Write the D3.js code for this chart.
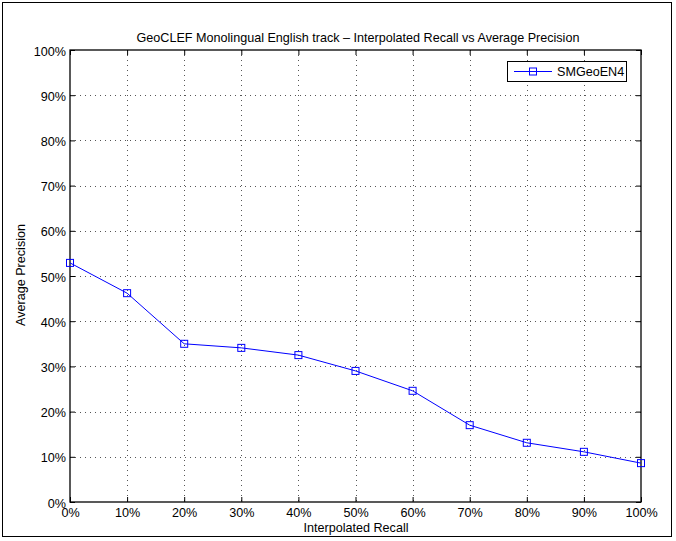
<!DOCTYPE html>
<html><head><meta charset="utf-8">
<script src="https://cdn.jsdelivr.net/npm/d3@7"></script>
<style>body{margin:0;background:#fff}svg{display:block;font-family:"Liberation Sans",Arial,sans-serif}</style>
</head><body><svg id="c" width="676" height="541"></svg>
<script>
const recall = [0,0.1,0.2,0.3,0.4,0.5,0.6,0.7,0.8,0.9,1.0];
const precision = [0.529,0.462,0.350,0.341,0.325,0.290,0.246,0.170,0.131,0.111,0.086];
const xTicks = [0,0.1,0.2,0.3,0.4,0.5,0.6,0.7,0.8,0.9,1.0];
const yTicks = [0,0.1,0.2,0.3,0.4,0.5,0.6,0.7,0.8,0.9,1.0];
const seriesName = "SMGeoEN4";
const titleText = "GeoCLEF Monolingual English track \u2013 Interpolated Recall vs Average Precision";

const FS = 12.6;
const svg = d3.select("#c");
const L=70, R=641, T=50, B=502;
const x = d3.scaleLinear().domain([0,1]).range([L,R]);
const y = d3.scaleLinear().domain([0,1]).range([B,T]);
const fmt = d => Math.round(d*100)+"%";

svg.append("rect").attr("x",2.5).attr("y",2.5).attr("width",669).attr("height",534)
  .attr("fill","#fff").attr("stroke","#000").attr("stroke-width",1);
svg.append("rect").attr("x",L).attr("y",T).attr("width",R-L).attr("height",B-T).attr("fill","#fff");

// grid
const g = svg.append("g");
g.selectAll(".gx").data(xTicks.slice(1,-1)).join("line")
  .attr("x1",d=>Math.round(x(d))+0.5).attr("x2",d=>Math.round(x(d))+0.5).attr("y1",T).attr("y2",B)
  .attr("stroke","#555").attr("stroke-width",1).attr("stroke-dasharray","1,4");
g.selectAll(".gy").data(yTicks.slice(1,-1)).join("line")
  .attr("y1",d=>Math.round(y(d))+0.5).attr("y2",d=>Math.round(y(d))+0.5).attr("x1",L).attr("x2",R)
  .attr("stroke","#555").attr("stroke-width",1).attr("stroke-dasharray","1,4");

// axes
const ax = d3.axisBottom(x).tickValues(xTicks).tickFormat(fmt).tickSizeInner(-5).tickSizeOuter(0).tickPadding(6);
const ay = d3.axisLeft(y).tickValues(yTicks).tickFormat(fmt).tickSizeInner(-5).tickSizeOuter(0).tickPadding(4);
const axT = d3.axisTop(x).tickValues(xTicks).tickFormat("").tickSizeInner(-5).tickSizeOuter(0);
const ayR = d3.axisRight(y).tickValues(yTicks).tickFormat("").tickSizeInner(-5).tickSizeOuter(0);
const gx = svg.append("g").attr("transform",`translate(0,${B})`).call(ax);
const gy = svg.append("g").attr("transform",`translate(${L},0)`).call(ay);
const gt = svg.append("g").attr("transform",`translate(0,${T})`).call(axT);
const gr = svg.append("g").attr("transform",`translate(${R},0)`).call(ayR);
[gx,gy,gt,gr].forEach(a=>{a.select(".domain").remove();a.selectAll("line").attr("stroke","#000");
  a.selectAll("text").attr("font-size",FS).attr("fill","#000").attr("font-family","Liberation Sans, Arial, sans-serif");});
gy.selectAll("text").attr("dy","0.4em");
gx.selectAll("text").attr("dy","0.71em");
svg.append("rect").attr("x",L).attr("y",T).attr("width",R-L).attr("height",B-T)
  .attr("fill","none").attr("stroke","#000").attr("stroke-width",1.3);

// line
const data = recall.map((r,i)=>({r,p:precision[i]}));
svg.append("path").datum(data).attr("fill","none").attr("stroke","#0000ff").attr("stroke-width",1)
  .attr("d",d3.line().x(d=>x(d.r)).y(d=>y(d.p)));
svg.selectAll(".mk").data(data).join("rect")
  .attr("x",d=>x(d.r)-3.5).attr("y",d=>y(d.p)-3.5).attr("width",7).attr("height",7)
  .attr("fill","none").attr("stroke","#0000ff").attr("stroke-width",1);

// title & labels
svg.append("text").attr("x",358).attr("y",42).attr("text-anchor","middle").attr("font-size",FS).text(titleText);
svg.append("text").attr("x",356).attr("y",532).attr("text-anchor","middle").attr("font-size",FS).text("Interpolated Recall");
svg.append("text").attr("transform","translate(25,275) rotate(-90)").attr("text-anchor","middle").attr("font-size",FS).text("Average Precision");

// legend
const lg = svg.append("g");
lg.append("rect").attr("x",507.5).attr("y",61.5).attr("width",119).attr("height",20).attr("fill","#fff").attr("stroke","#000").attr("stroke-width",1);
lg.append("line").attr("x1",514).attr("x2",552).attr("y1",71.5).attr("y2",71.5).attr("stroke","#0000ff");
lg.append("rect").attr("x",529.5).attr("y",68).attr("width",7).attr("height",7).attr("fill","none").attr("stroke","#0000ff");
lg.append("text").attr("x",557).attr("y",76).attr("font-size",FS).text(seriesName);
</script></body></html>
